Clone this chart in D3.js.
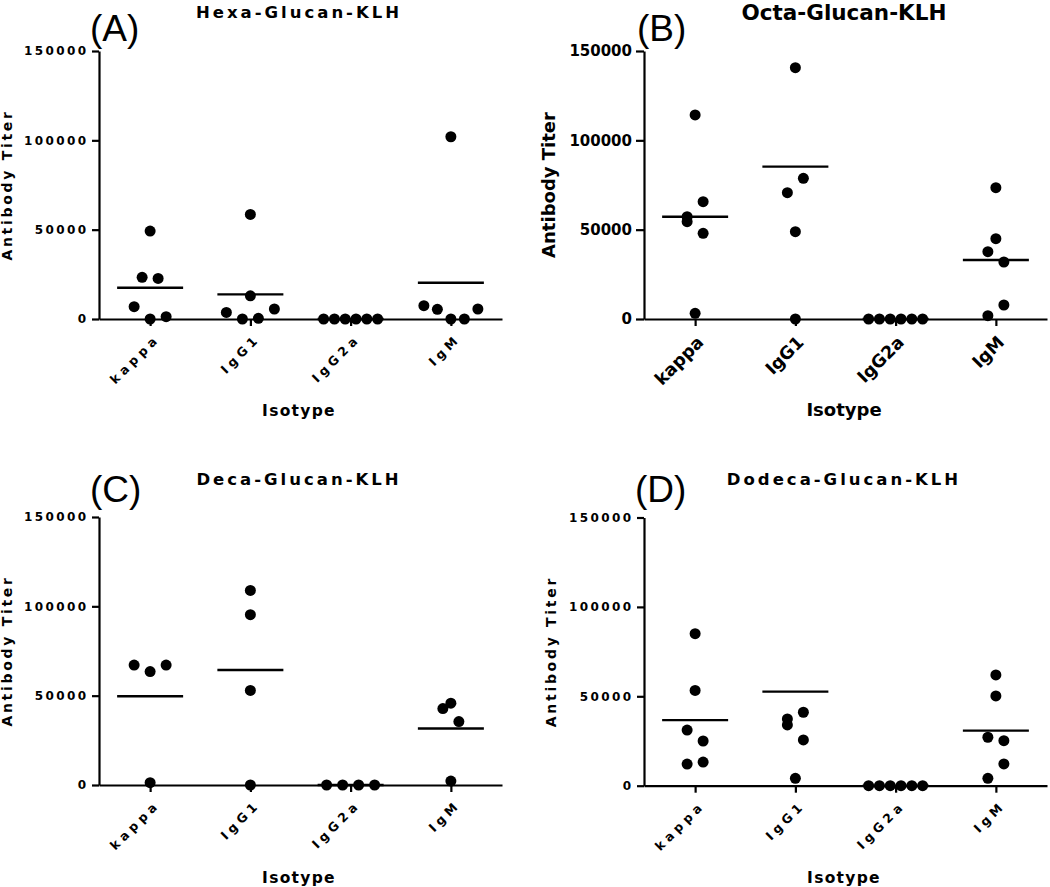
<!DOCTYPE html>
<html><head><meta charset="utf-8">
<script src="https://cdn.jsdelivr.net/npm/d3@7"></script>
<style>body{margin:0;background:#fff}svg{display:block}</style>
</head><body>
<svg id="chart" width="1050" height="887"></svg>
<script>
// ---------- data ----------
const categories = ["kappa", "IgG1", "IgG2a", "IgM"];
const yTicks = [0, 50000, 100000, 150000];
const panelLetters = ["(A)", "(B)", "(C)", "(D)"];
const panelTitles = ["Hexa-Glucan-KLH", "Octa-Glucan-KLH", "Deca-Glucan-KLH", "Dodeca-Glucan-KLH"];
const yTitle = "Antibody Titer";
const xTitle = "Isotype";

// (A) Hexa
const hexaKappa = [0, 6900, 1300, 23300, 22700, 49200];
const hexaIgG1  = [0, 370, 3700, 5600, 13000, 58500];
const hexaIgG2a = [0, 0, 0, 0, 0, 0];
const hexaIgM   = [0, 5400, 0, 7450, 5600, 102000];
const hexaMeans = [17500, 13800, 0, 20300];

// (B) Octa
const octaKappa = [114200, 54460, 47970, 57260, 65650, 3190];
const octaIgG1  = [140650, 70690, 78750, 48860, 0];
const octaIgG2a = [0, 0, 0, 0, 0, 0];
const octaIgM   = [73490, 44940, 37670, 31900, 1850, 7840];
const octaMeans = [57200, 85300, 0, 33000];

// (C) Deca
const decaKappa = [63500, 67100, 67100, 1300];
const decaIgG1  = [108900, 95300, 52900, 0];
const decaIgG2a = [0, 0, 0, 0];
const decaIgM   = [45800, 42800, 35500, 2200];
const decaMeans = [49700, 64400, 0, 31600];

// (D) Dodeca
const dodecaKappa = [85000, 53300, 31100, 25000, 12100, 13200];
const dodecaIgG1  = [33970, 25580, 37330, 41080, 4140];
const dodecaIgG2a = [0, 0, 0, 0, 0, 0];
const dodecaIgM   = [61960, 50210, 27090, 25190, 4140, 12150];
const dodecaMeans = [36700, 52600, 0, 30780];

const panelSeries = [
  [hexaKappa, hexaIgG1, hexaIgG2a, hexaIgM],
  [octaKappa, octaIgG1, octaIgG2a, octaIgM],
  [decaKappa, decaIgG1, decaIgG2a, decaIgM],
  [dodecaKappa, dodecaIgG1, dodecaIgG2a, dodecaIgM]
];
const panelMeans = [hexaMeans, octaMeans, decaMeans, dodecaMeans];

// ---------- layout & style ----------
const FONT = "'DejaVu Sans', Verdana, sans-serif";
const spaced = {
  tick: {size: 12, ls: 2.4}, title: {size: 16.5, ls: 3}, ylab: {size: 14, ls: 2.7},
  xlab: {size: 15.5, ls: 1.3}, cat: {size: 12.5, ls: 4.2}, tickLen: 7, tickPad: 3.6
};
const wide = {
  tick: {size: 15, ls: 0}, title: {size: 21.5, ls: 0}, ylab: {size: 18, ls: 0},
  xlab: {size: 18, ls: 0}, cat: {size: 17.5, ls: 0}, tickLen: 8, tickPad: 4
};
const layouts = [
  {ax: 99,  top: 51,    zero: 319,   st: spaced, titleY: 18,  letterX: 90,  letterY: 41,  xlabY: 416, ylabX: 11.5, catDx: 10, catDy: 20.5},
  {ax: 644, top: 51,    zero: 319,   st: wide,   titleY: 20,  letterX: 637, letterY: 41,  xlabY: 416, ylabX: 555,  catDx: 9,  catDy: 24.5},
  {ax: 99,  top: 517,   zero: 785,   st: spaced, titleY: 485, letterX: 90,  letterY: 502, xlabY: 883, ylabX: 11.5, catDx: 10, catDy: 20.5},
  {ax: 644, top: 517.5, zero: 785.7, st: spaced, titleY: 485, letterX: 635, letterY: 502, xlabY: 883, ylabX: 556,  catDx: 10, catDy: 20.5}
];

const svg = d3.select("#chart");

// Prism-like horizontal spreading of points that share a row
function swarm(values, y, rowTol, step, maxW) {
  const idx = values.map((v, i) => i).sort((a, b) => values[a] - values[b] || a - b);
  const offs = new Array(values.length).fill(0);
  let i = 0;
  while (i < idx.length) {
    const startY = y(values[idx[i]]);
    let j = i + 1;
    while (j < idx.length && Math.abs(y(values[idx[j]]) - startY) < rowTol) j++;
    const row = idx.slice(i, j).sort((a, b) => a - b);
    const n = row.length;
    const sp = n > 1 ? Math.min(step, maxW / (n - 1)) : 0;
    const slots = d3.range(n).map(k => (k - (n - 1) / 2) * sp)
      .sort((a, b) => Math.abs(a) - Math.abs(b) || a - b);
    row.forEach((r, k) => offs[r] = slots[k]);
    i = j;
  }
  return offs;
}

function styleText(sel, spec, weight, family) {
  sel.attr("font-family", family || FONT).attr("font-size", spec.size)
     .attr("font-weight", weight || "bold").style("letter-spacing", spec.ls + "px")
     .attr("fill", "#000");
}

layouts.forEach((L, p) => {
  const st = L.st;
  const g = svg.append("g");
  const y = d3.scaleLinear().domain([0, 150000]).range([L.zero, L.top]);
  const x = d3.scalePoint().domain(categories).range([L.ax, L.ax + 403]).padding(0.51);

  // y axis
  const ya = g.append("g").attr("transform", `translate(${L.ax},0)`)
    .call(d3.axisLeft(y).tickValues(yTicks).tickFormat(d3.format("d"))
      .tickSize(st.tickLen).tickPadding(st.tickPad).tickSizeOuter(0));
  ya.selectAll("path,line").attr("stroke", "#000").attr("stroke-width", 2.2);
  ya.selectAll("text").call(styleText, st.tick);

  // x axis
  const xa = g.append("g").attr("transform", `translate(0,${L.zero})`)
    .call(d3.axisBottom(x).tickSize(7).tickSizeOuter(0));
  xa.selectAll("path,line").attr("stroke", "#000").attr("stroke-width", 2.2);
  xa.selectAll("text").call(styleText, st.cat)
    .attr("x", 0).attr("y", 0).attr("dy", 0).attr("text-anchor", "end")
    .attr("transform", `translate(${L.catDx},${L.catDy}) rotate(-45)`);

  // means
  g.append("g").selectAll("line").data(panelMeans[p]).join("line")
    .attr("x1", (d, i) => x(categories[i]) - 33).attr("x2", (d, i) => x(categories[i]) + 33)
    .attr("y1", d => y(d)).attr("y2", d => y(d))
    .attr("stroke", "#000").attr("stroke-width", 2.4);

  // dots
  panelSeries[p].forEach((vals, ci) => {
    const offs = swarm(vals, y, 16.1, 16, 54);
    g.append("g").selectAll("circle").data(vals).join("circle")
      .attr("cx", (d, i) => x(categories[ci]) + offs[i])
      .attr("cy", d => y(d)).attr("r", 5.5).attr("fill", "#000");
  });

  // titles
  g.append("text").attr("x", L.ax + 200).attr("y", L.titleY).attr("text-anchor", "middle")
    .text(panelTitles[p]).call(styleText, st.title);
  g.append("text").attr("x", L.letterX).attr("y", L.letterY)
    .text(panelLetters[p]).call(styleText, {size: 37, ls: 0}, "normal", "'Liberation Sans', Arial, sans-serif");
  g.append("text").attr("transform", `translate(${L.ylabX},${(L.top + L.zero) / 2}) rotate(-90)`)
    .attr("text-anchor", "middle").text(yTitle).call(styleText, st.ylab);
  g.append("text").attr("x", L.ax + 200).attr("y", L.xlabY).attr("text-anchor", "middle")
    .text(xTitle).call(styleText, st.xlab);
});
</script>
</body></html>
